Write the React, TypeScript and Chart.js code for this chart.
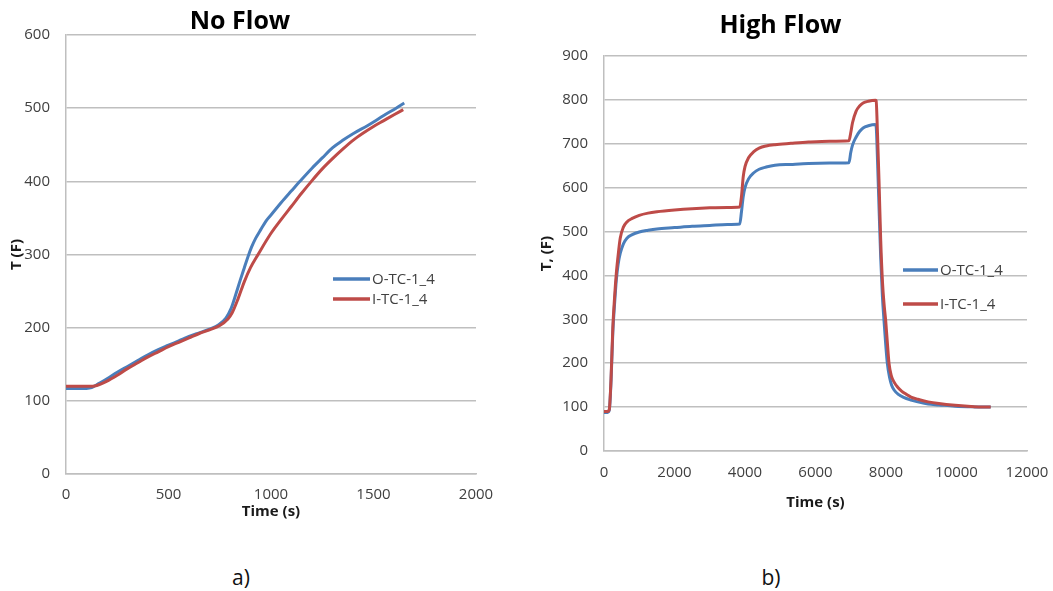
import React, { useEffect, useRef } from "react";
import { Chart, registerables } from "chart.js";

Chart.register(...registerables);

const FONT = "'Open Sans', 'Noto Sans', sans-serif";
const BLUE = "#4a7ebb";
const RED = "#be4b48";
const GRID = "#bfbfbf";
const TICK = "#404040";
const DARK = "#1a1a1a";

const seriesNames = ["O-TC-1_4", "I-TC-1_4"];

// ---- (a) No Flow ----
const timeA_O = [0, 50, 100, 125, 150, 200, 250, 300, 350, 400, 450, 500, 550, 600, 650, 700, 745, 780, 805, 830, 850, 870, 889, 905, 925, 950, 979, 1000, 1050, 1100, 1141, 1200, 1250, 1301, 1350, 1400, 1470, 1500, 1550, 1610, 1650];
const tempA_O = [117, 117, 117, 118, 122, 130, 139, 147, 155, 163, 170, 176, 182, 188, 193, 198, 204, 213, 226, 247, 265, 282, 298, 310, 322, 334, 347, 354, 371, 387, 400, 418, 432, 446, 456, 465, 476, 481, 490, 500, 507];
const timeA_I = [0, 50, 100, 130, 150, 200, 250, 300, 350, 400, 450, 500, 550, 600, 650, 700, 750, 790, 810, 840, 870, 900, 937, 1000, 1050, 1100, 1150, 1200, 1250, 1300, 1350, 1400, 1450, 1500, 1550, 1600, 1645];
const tempA_I = [120, 120, 120, 120, 121, 127, 135, 144, 152, 160, 167, 174, 180, 186, 192, 197, 203, 212, 220, 240, 263, 282, 300, 329, 348, 366, 384, 401, 417, 431, 444, 456, 466, 475, 483, 491, 498];
const xTicksA = [0, 500, 1000, 1500, 2000];
const yTicksA = [0, 100, 200, 300, 400, 500, 600];

// ---- (b) High Flow ----
const timeB_O = [0, 100, 150, 200, 250, 300, 350, 400, 460, 550, 650, 800, 1000, 1250, 1500, 2000, 2500, 3000, 3500, 3850, 3900, 3950, 4000, 4100, 4250, 4400, 4600, 4850, 5300, 5800, 6400, 6950, 7000, 7050, 7150, 7250, 7350, 7500, 7693, 7720, 7760, 7800, 7850, 7900, 7941, 7990, 8038, 8100, 8160, 8230, 8350, 8500, 8710, 8900, 9195, 9500, 9960, 10500, 10970];
const tempB_O = [88, 88, 93, 160, 270, 335, 390, 425, 450, 472, 485, 493, 499, 503, 506, 509, 512, 514, 516, 517, 545, 580, 600, 620, 634, 642, 647, 651, 653, 655, 656, 657, 680, 697, 715, 728, 736, 741, 744, 740, 660, 560, 440, 350, 300, 245, 200, 168, 150, 139, 129, 122, 116, 112, 107, 105, 102, 100.5, 100];
const timeB_I = [0, 100, 150, 200, 250, 300, 350, 400, 460, 550, 650, 800, 1000, 1250, 1500, 2000, 2500, 3000, 3500, 3850, 3900, 3950, 4000, 4100, 4250, 4400, 4600, 4850, 5300, 5800, 6400, 6950, 7000, 7050, 7150, 7250, 7350, 7500, 7700, 7720, 7760, 7800, 7850, 7900, 7950, 7990, 8040, 8085, 8150, 8230, 8326, 8450, 8580, 8710, 8900, 9195, 9500, 9960, 10500, 10970];
const tempB_I = [90, 90, 95, 165, 280, 350, 405, 445, 485, 510, 522, 530, 537, 542, 545, 549, 552, 554, 555, 556, 580, 625, 648, 668, 682, 690, 695, 698, 701, 704, 706, 707, 725, 748, 774, 786, 793, 797, 799, 798, 720, 620, 480, 385, 330, 298, 245, 200, 172, 157, 146, 136, 129, 123, 118, 112, 108, 104, 101, 100];
const xTicksB = [0, 2000, 4000, 6000, 8000, 10000, 12000];
const yTicksB = [0, 100, 200, 300, 400, 500, 600, 700, 800, 900];

const toPoints = (t: number[], v: number[]) => t.map((x, i) => ({ x, y: v[i] }));

const manualLegend = {
  id: "manualLegend",
  afterDraw(chart: any, _args: any, opts: any) {
    const ctx = chart.ctx;
    ctx.save();
    chart.data.datasets.forEach((ds: any, i: number) => {
      const y = opts.y[i];
      ctx.strokeStyle = ds.borderColor;
      ctx.lineWidth = 3.5;
      ctx.beginPath();
      ctx.moveTo(opts.x, y);
      ctx.lineTo(opts.x + opts.len, y);
      ctx.stroke();
      ctx.fillStyle = TICK;
      ctx.font = `15px ${FONT}`;
      ctx.textBaseline = "middle";
      ctx.textAlign = "left";
      ctx.fillText(ds.label, opts.x + opts.len + 2, y + 1);
    });
    ctx.restore();
  },
};

type Props = {
  left: number;
  width: number;
  height: number;
  title: string;
  titlePad: { top: number; bottom: number };
  oPts: { x: number; y: number }[];
  iPts: { x: number; y: number }[];
  xTicks: number[];
  yTicks: number[];
  yTitle: string;
  padL: number;
  padR: number;
  padB: number;
  yWidth: number;
  xHeight: number;
  xTickGap: number;
  legend: { x: number; len: number; y: number[] };
};

function TempChart(p: Props) {
  const ref = useRef<HTMLCanvasElement | null>(null);
  useEffect(() => {
    if (!ref.current) return;
    const chart = new Chart(ref.current, {
      type: "line",
      data: {
        datasets: [
          {
            label: seriesNames[0],
            data: p.oPts,
            borderColor: BLUE,
            backgroundColor: BLUE,
            borderWidth: 3,
            pointRadius: 0,
            cubicInterpolationMode: "monotone",
            order: 1,
          },
          {
            label: seriesNames[1],
            data: p.iPts,
            borderColor: RED,
            backgroundColor: RED,
            borderWidth: 3,
            pointRadius: 0,
            cubicInterpolationMode: "monotone",
            order: 0,
          },
        ],
      },
      options: {
        responsive: false,
        animation: false,
        layout: { padding: { left: p.padL, right: p.padR, top: 0, bottom: p.padB } },
        plugins: {
          legend: { display: false },
          tooltip: { enabled: false },
          title: {
            display: true,
            text: p.title,
            color: "#000",
            font: { family: FONT, size: 25, weight: "bold", lineHeight: 1 },
            padding: p.titlePad,
          },
          manualLegend: p.legend,
        } as any,
        scales: {
          x: {
            type: "linear",
            min: p.xTicks[0],
            max: p.xTicks[p.xTicks.length - 1],
            afterBuildTicks: (s: any) => {
              s.ticks = p.xTicks.map((v) => ({ value: v }));
            },
            afterFit: (s: any) => {
              s.height = p.xHeight;
            },
            grid: { display: false, drawTicks: true, tickLength: p.xTickGap },
            border: { display: true, color: GRID, width: 1.5 },
            ticks: {
              color: TICK,
              padding: 0,
              maxRotation: 0,
              autoSkip: false,
              font: { family: FONT, size: 15 },
              callback: (v: any) => String(v),
            },
            title: {
              display: true,
              text: "Time (s)",
              color: DARK,
              font: { family: FONT, size: 15, weight: "bold" },
              padding: { top: 4, bottom: 4 },
            },
          },
          y: {
            type: "linear",
            min: p.yTicks[0],
            max: p.yTicks[p.yTicks.length - 1],
            afterBuildTicks: (s: any) => {
              s.ticks = p.yTicks.map((v) => ({ value: v }));
            },
            afterFit: (s: any) => {
              s.width = p.yWidth;
            },
            grid: { display: true, color: GRID, lineWidth: 1.5, drawTicks: false },
            border: { display: true, color: GRID, width: 1.5 },
            ticks: {
              color: TICK,
              padding: 16,
              font: { family: FONT, size: 15 },
              callback: (v: any) => String(v),
            },
            title: {
              display: true,
              text: p.yTitle,
              color: DARK,
              font: { family: FONT, size: 15, weight: "bold" },
              padding: { top: 4, bottom: 4 },
            },
          },
        },
      },
      plugins: [manualLegend],
    } as any);
    return () => chart.destroy();
  }, []);
  return (
    <canvas
      ref={ref}
      width={p.width}
      height={p.height}
      style={{ position: "absolute", left: p.left, top: 0, width: p.width, height: p.height }}
    />
  );
}

export default function App() {
  const labelStyle: React.CSSProperties = {
    position: "absolute",
    top: 577,
    transform: "translate(-50%, -50%)",
    fontFamily: FONT,
    fontSize: 21,
    color: "#111",
    whiteSpace: "nowrap",
  };
  return (
    <div style={{ position: "absolute", left: 0, top: 0, width: 1053, height: 591, background: "#fff", overflow: "hidden" }}>
      <TempChart
        left={0}
        width={506}
        height={530}
        title="No Flow"
        titlePad={{ top: 9, bottom: 1 }}
        oPts={toPoints(timeA_O, tempA_O)}
        iPts={toPoints(timeA_I, tempA_I)}
        xTicks={xTicksA}
        yTicks={yTicksA}
        yTitle="T (F)"
        padL={4}
        padR={30}
        padB={5}
        yWidth={62}
        xHeight={51}
        xTickGap={12}
        legend={{ x: 333, len: 37, y: [279, 299] }}
      />
      <TempChart
        left={510}
        width={542}
        height={521}
        title="High Flow"
        titlePad={{ top: 13.5, bottom: 17.5 }}
        oPts={toPoints(timeB_O, tempB_O)}
        iPts={toPoints(timeB_I, tempB_I)}
        xTicks={xTicksB}
        yTicks={yTicksB}
        yTitle="T, (F)"
        padL={24}
        padR={25}
        padB={5}
        yWidth={70}
        xHeight={65}
        xTickGap={13}
        legend={{ x: 393, len: 35, y: [270, 304] }}
      />
      <div style={{ ...labelStyle, left: 241 }}>a)</div>
      <div style={{ ...labelStyle, left: 771 }}>b)</div>
    </div>
  );
}
